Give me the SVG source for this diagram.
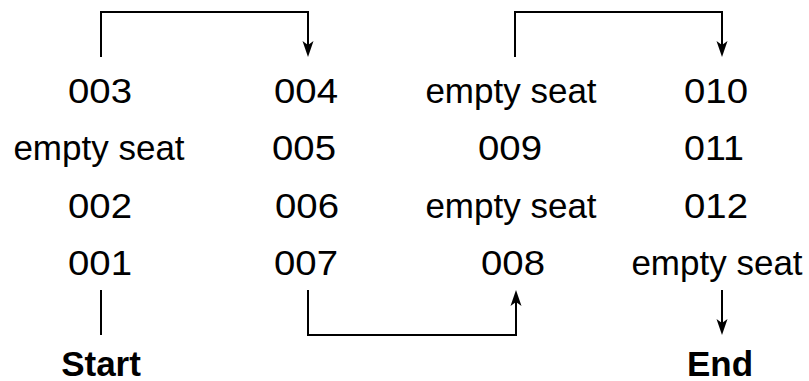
<svg xmlns="http://www.w3.org/2000/svg" width="809" height="381" viewBox="0 0 809 381">
<style>
.t{font-family:"Liberation Sans",Arial,sans-serif;font-size:35px;fill:#000;text-anchor:middle}
.b{font-family:"Liberation Sans",Arial,sans-serif;font-size:35px;font-weight:bold;fill:#000;text-anchor:middle}
.c{fill:none;stroke:#000;stroke-width:2}
</style>
<defs>
<marker id="arr" markerUnits="userSpaceOnUse" markerWidth="20" markerHeight="14" viewBox="0 -7 20 14" refX="4" refY="0" orient="auto">
<path d="M0,-5.5 L16,0 L0,5.5 L4,0 Z" fill="#000"/>
</marker>
</defs>
<rect width="809" height="381" fill="#fff"/>
<g id="connectors">
<path class="c" d="M101,57 V12 H308 V45" marker-end="url(#arr)"/>
<path class="c" d="M515,57 V12 H722 V45" marker-end="url(#arr)"/>
<path class="c" d="M308,290 V335 H516 V302" marker-end="url(#arr)"/>
<path class="c" d="M101,290 V335"/>
<path class="c" d="M722,290 V323" marker-end="url(#arr)"/>
</g>
<g id="n003"><text class="t" x="100" y="103" textLength="64" lengthAdjust="spacingAndGlyphs">003</text></g>
<g id="n_empty1"><text class="t" x="99" y="160">empty seat</text></g>
<g id="n002"><text class="t" x="100" y="218" textLength="64" lengthAdjust="spacingAndGlyphs">002</text></g>
<g id="n001"><text class="t" x="100" y="275" textLength="64" lengthAdjust="spacingAndGlyphs">001</text></g>
<g id="n004"><text class="t" x="306" y="103" textLength="64" lengthAdjust="spacingAndGlyphs">004</text></g>
<g id="n005"><text class="t" x="304" y="160" textLength="64" lengthAdjust="spacingAndGlyphs">005</text></g>
<g id="n006"><text class="t" x="307" y="218" textLength="64" lengthAdjust="spacingAndGlyphs">006</text></g>
<g id="n007"><text class="t" x="306" y="275" textLength="64" lengthAdjust="spacingAndGlyphs">007</text></g>
<g id="n_empty2"><text class="t" x="511" y="103">empty seat</text></g>
<g id="n009"><text class="t" x="510" y="160" textLength="64" lengthAdjust="spacingAndGlyphs">009</text></g>
<g id="n_empty3"><text class="t" x="511" y="218">empty seat</text></g>
<g id="n008"><text class="t" x="513" y="275" textLength="64" lengthAdjust="spacingAndGlyphs">008</text></g>
<g id="n010"><text class="t" x="716" y="103" textLength="64" lengthAdjust="spacingAndGlyphs">010</text></g>
<g id="n011"><text class="t" x="714" y="160" textLength="60" lengthAdjust="spacingAndGlyphs">011</text></g>
<g id="n012"><text class="t" x="716" y="218" textLength="64" lengthAdjust="spacingAndGlyphs">012</text></g>
<g id="n_empty4"><text class="t" x="717" y="275">empty seat</text></g>
<g id="start"><text class="b" x="101" y="376">Start</text></g>
<g id="end"><text class="b" x="720" y="376">End</text></g>
</svg>
